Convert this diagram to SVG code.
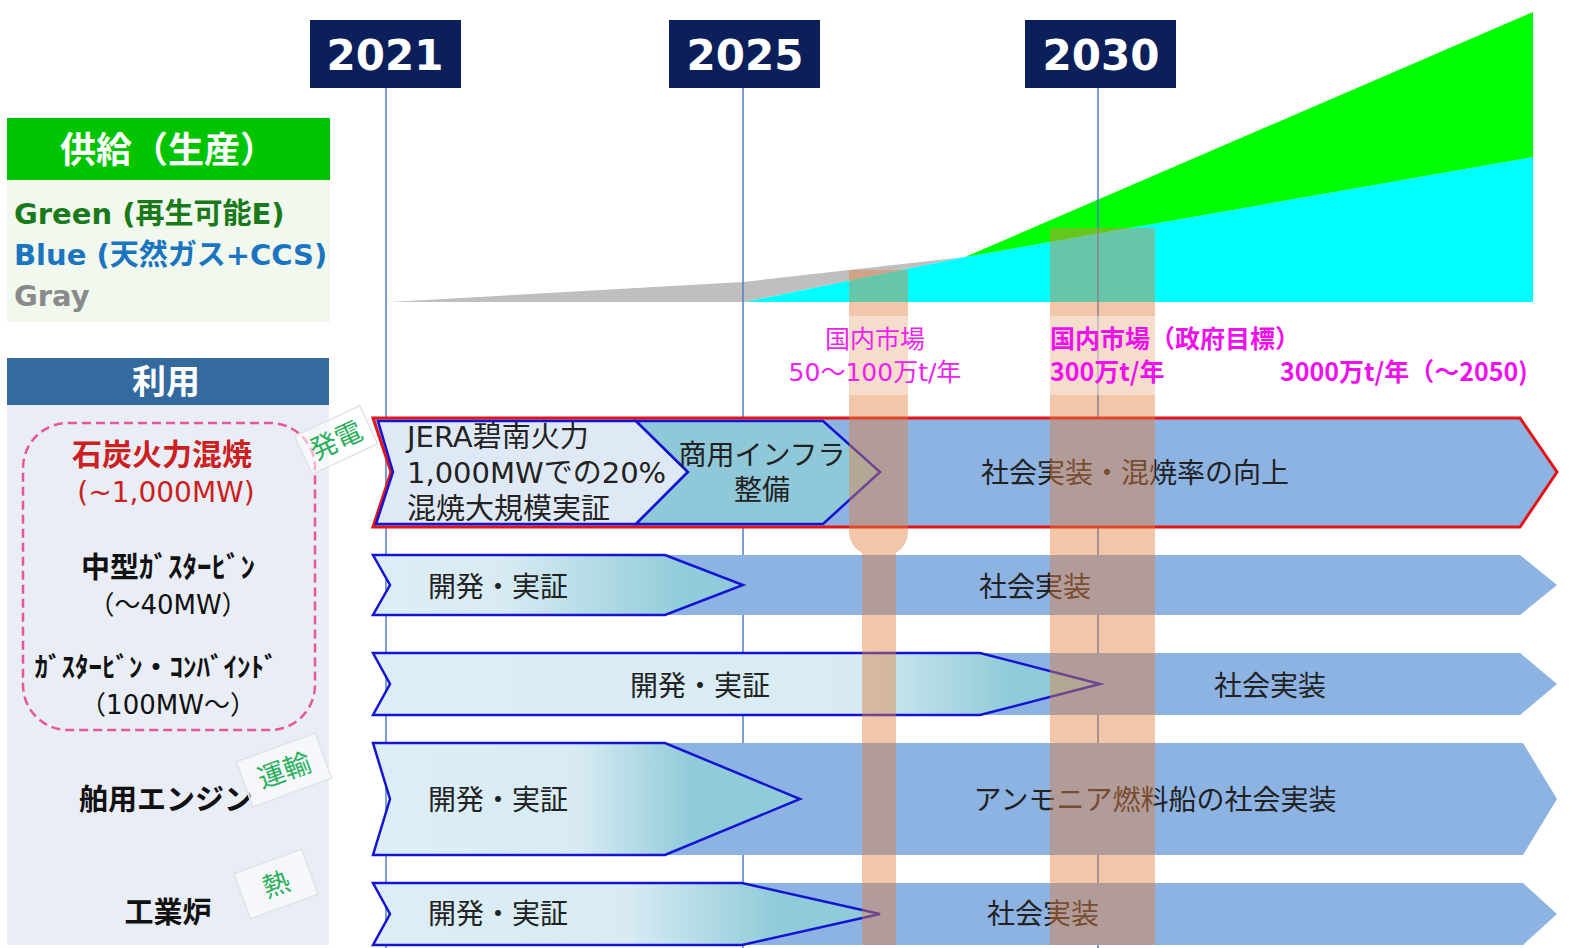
<svg xmlns="http://www.w3.org/2000/svg" width="1569" height="948" viewBox="0 0 1569 948">
<defs>
<style>
.yr{font-family:"DejaVu Sans",sans-serif;font-weight:bold;font-size:42px;fill:#fff;text-anchor:middle}
.yrbox{fill:#0b1f5b}
.vline{stroke:#4f7fbf;stroke-width:1.5}
.big{fill:#8db3e2}
.chev{stroke:#1414d2;stroke-width:2.5}
.rowt{font-family:"DejaVu Sans","Noto Sans CJK JP",sans-serif;font-size:28px;fill:#222}
.lab{font-family:"Noto Sans CJK JP",sans-serif;font-size:29px;font-weight:bold;fill:#111;text-anchor:middle}
.sub{font-family:"DejaVu Sans","Noto Sans CJK JP",sans-serif;font-size:26px;fill:#111;text-anchor:middle}
.mk{font-family:"DejaVu Sans","Noto Sans CJK JP",sans-serif;font-size:25px;fill:#ee22ee}
.mkb{font-family:"Noto Sans CJK JP",sans-serif;font-size:25px;fill:#ee11ee;font-weight:bold}
.tagbox{fill:#fff;fill-opacity:.55;stroke:#dfe3ea;stroke-width:1.5}
.tagt{font-family:"Noto Sans CJK JP",sans-serif;font-size:27px;fill:#2bb05a;text-anchor:middle}
.bar{fill:#e08040;fill-opacity:.45}
.leg{font-family:"DejaVu Sans","Noto Sans CJK JP",sans-serif;font-size:29px;font-weight:bold}
.hdr{font-family:"Noto Sans CJK JP",sans-serif;font-weight:bold;fill:#fff;text-anchor:middle}
</style>
<linearGradient id="g2" gradientUnits="userSpaceOnUse" x1="373" y1="0" x2="743" y2="0">
<stop offset="0" stop-color="#dcedf5"/><stop offset="0.35" stop-color="#d8ebf3"/><stop offset="0.85" stop-color="#8fcbd8"/><stop offset="1" stop-color="#8fcbd8"/>
</linearGradient>
<linearGradient id="g3" gradientUnits="userSpaceOnUse" x1="373" y1="0" x2="1100" y2="0">
<stop offset="0" stop-color="#dcedf5"/><stop offset="0.66" stop-color="#d8ebf3"/><stop offset="0.88" stop-color="#8fcbd8"/><stop offset="1" stop-color="#8fcbd8"/>
</linearGradient>
<linearGradient id="g4" gradientUnits="userSpaceOnUse" x1="373" y1="0" x2="800" y2="0">
<stop offset="0" stop-color="#dcedf5"/><stop offset="0.48" stop-color="#d8ebf3"/><stop offset="0.75" stop-color="#8fcbd8"/><stop offset="1" stop-color="#8fcbd8"/>
</linearGradient>
<linearGradient id="g5" gradientUnits="userSpaceOnUse" x1="373" y1="0" x2="880" y2="0">
<stop offset="0" stop-color="#dcedf5"/><stop offset="0.5" stop-color="#d8ebf3"/><stop offset="0.8" stop-color="#8fcbd8"/><stop offset="1" stop-color="#8fcbd8"/>
</linearGradient>
</defs>
<rect width="1569" height="948" fill="#ffffff"/>

<g id="supply-panel">
<rect x="7" y="118" width="323" height="62" fill="#00c400"/>
<text class="hdr" x="168" y="163" font-size="36">供給（生産）</text>
<rect x="7" y="180" width="323" height="142" fill="#f1f8ee"/>
<text class="leg" x="14" y="224" fill="#1a7a1a">Green (再生可能E)</text>
<text class="leg" x="14" y="265" fill="#1a74c0">Blue (天然ガス+CCS)</text>
<text class="leg" x="14" y="306" fill="#8a8a8a">Gray</text>
</g>

<g id="supply-chart">
<polygon points="390,302 743,282 965,257 745,302" fill="#bfbfbf"/>
<polygon points="745,302 965,257 1533,157 1533,302" fill="#00ffff"/>
<polygon points="965,257 1533,12 1533,157" fill="#00ff00"/>
</g>

<g id="use-panel">
<rect x="7" y="358" width="322" height="47" fill="#356a9e"/>
<text class="hdr" x="166" y="394" font-size="34">利用</text>
<rect x="7" y="405" width="322" height="540" fill="#e9edf5"/>
<rect x="23" y="423" width="292" height="307" rx="45" fill="none" stroke="#e8559a" stroke-width="2.5" stroke-dasharray="9 5"/>
<text class="lab" x="162" y="465" style="fill:#cc2020;font-size:30px">石炭火力混焼</text>
<text class="sub" x="166" y="502" style="fill:#cc2020;font-size:28px">(~1,000MW)</text>
<text class="lab" x="168" y="578">中型ｶﾞｽﾀｰﾋﾞﾝ</text>
<text class="sub" x="168" y="614">（～40MW）</text>
<text class="lab" x="156" y="677" style="font-size:27px">ｶﾞｽﾀｰﾋﾞﾝ・ｺﾝﾊﾞｲﾝﾄﾞ</text>
<text class="sub" x="168" y="714">（100MW～）</text>
<text class="lab" x="166" y="810">舶用エンジン</text>
<text class="lab" x="168" y="923">工業炉</text>
</g>

<g id="years">
<line class="vline" x1="386" y1="88" x2="386" y2="948"/>
<line class="vline" x1="743" y1="88" x2="743" y2="948"/>
<line class="vline" x1="1098" y1="88" x2="1098" y2="948"/>
<rect class="yrbox" x="310" y="20" width="151" height="68"/>
<text class="yr" x="385" y="70">2021</text>
<rect class="yrbox" x="669" y="20" width="151" height="68"/>
<text class="yr" x="745" y="70">2025</text>
<rect class="yrbox" x="1025" y="20" width="151" height="68"/>
<text class="yr" x="1101" y="70">2030</text>
</g>

<g id="row1">
<path class="big" d="M373,418 H1520 L1557,472 L1520,527 H373 L391,472 Z" stroke="#e51515" stroke-width="3"/>
<path class="chev" d="M378,421 H636 L688,472 L636,524 H376 L393,472 Z" fill="#dfe9f5"/>
<path class="chev" d="M636,421 H823 L880,472 L823,524 H636 L688,472 Z" fill="#8fc8d8"/>
<text class="rowt" x="407" y="447" style="font-size:29px">JERA碧南火力</text>
<text class="rowt" x="407" y="483" style="font-size:29px">1,000MWでの20%</text>
<text class="rowt" x="407" y="519" style="font-size:29px">混焼大規模実証</text>
<text class="rowt" x="762" y="465" text-anchor="middle">商用インフラ</text>
<text class="rowt" x="762" y="500" text-anchor="middle">整備</text>
<text class="rowt" x="1135" y="483" text-anchor="middle">社会実装・混焼率の向上</text>
</g>

<g id="row2">
<path class="big" d="M373,555 H1520 L1557,585 L1520,615 H373 L390,585 Z"/>
<path class="chev" d="M373,555 H665 L743,585 L665,615 H373 L390,585 Z" fill="url(#g2)"/>
<text class="rowt" x="428" y="597">開発・実証</text>
<text class="rowt" x="1035" y="597" text-anchor="middle">社会実装</text>
</g>

<g id="row3">
<path class="big" d="M373,653 H1520 L1557,684 L1520,715 H373 L390,684 Z"/>
<path class="chev" d="M373,653 H980 L1100,684 L980,715 H373 L390,684 Z" fill="url(#g3)"/>
<text class="rowt" x="700" y="696" text-anchor="middle">開発・実証</text>
<text class="rowt" x="1270" y="696" text-anchor="middle">社会実装</text>
</g>

<g id="row4">
<path class="big" d="M373,743 H1523 L1557,799 L1523,855 H373 L390,799 Z"/>
<path class="chev" d="M373,743 H665 L800,799 L665,855 H373 L390,799 Z" fill="url(#g4)"/>
<text class="rowt" x="428" y="810">開発・実証</text>
<text class="rowt" x="1155" y="810" text-anchor="middle">アンモニア燃料船の社会実装</text>
</g>

<g id="row5">
<path class="big" d="M373,883 H1523 L1557,914 L1523,945 H373 L390,914 Z"/>
<path class="chev" d="M373,883 H742 L880,914 L742,945 H373 L390,914 Z" fill="url(#g5)"/>
<text class="rowt" x="428" y="924">開発・実証</text>
<text class="rowt" x="1043" y="924" text-anchor="middle">社会実装</text>
</g>

<g id="tags">
<g transform="translate(336,440) rotate(-25)">
<rect class="tagbox" x="-36" y="-21" width="72" height="42"/>
<text class="tagt" x="0" y="10">発電</text>
</g>
<g transform="translate(284,770) rotate(-20)">
<rect class="tagbox" x="-42" y="-24" width="84" height="48"/>
<text class="tagt" x="0" y="10">運輸</text>
</g>
<g transform="translate(276,884) rotate(-20)">
<rect class="tagbox" x="-36" y="-24" width="72" height="48"/>
<text class="tagt" x="0" y="10">熱</text>
</g>
</g>

<g id="market-bars">
<path class="bar" d="M849,270 H908 V532 Q908,545 896,553 V945 H862 V553 Q849,545 849,532 Z"/>
<rect class="bar" x="1050" y="228" width="105" height="717"/>
<rect x="849" y="316" width="59" height="79" fill="#fff" fill-opacity="0.4"/>
<rect x="1050" y="316" width="105" height="79" fill="#fff" fill-opacity="0.4"/>
</g>

<g id="market-labels">
<text class="mk" x="875" y="348" text-anchor="middle">国内市場</text>
<text class="mk" x="875" y="381" text-anchor="middle">50～100万t/年</text>
<text class="mkb" x="1050" y="348">国内市場（政府目標）</text>
<text class="mkb" x="1050" y="381">300万t/年</text>
<text class="mkb" x="1280" y="381">3000万t/年（～2050)</text>
</g>
</svg>
